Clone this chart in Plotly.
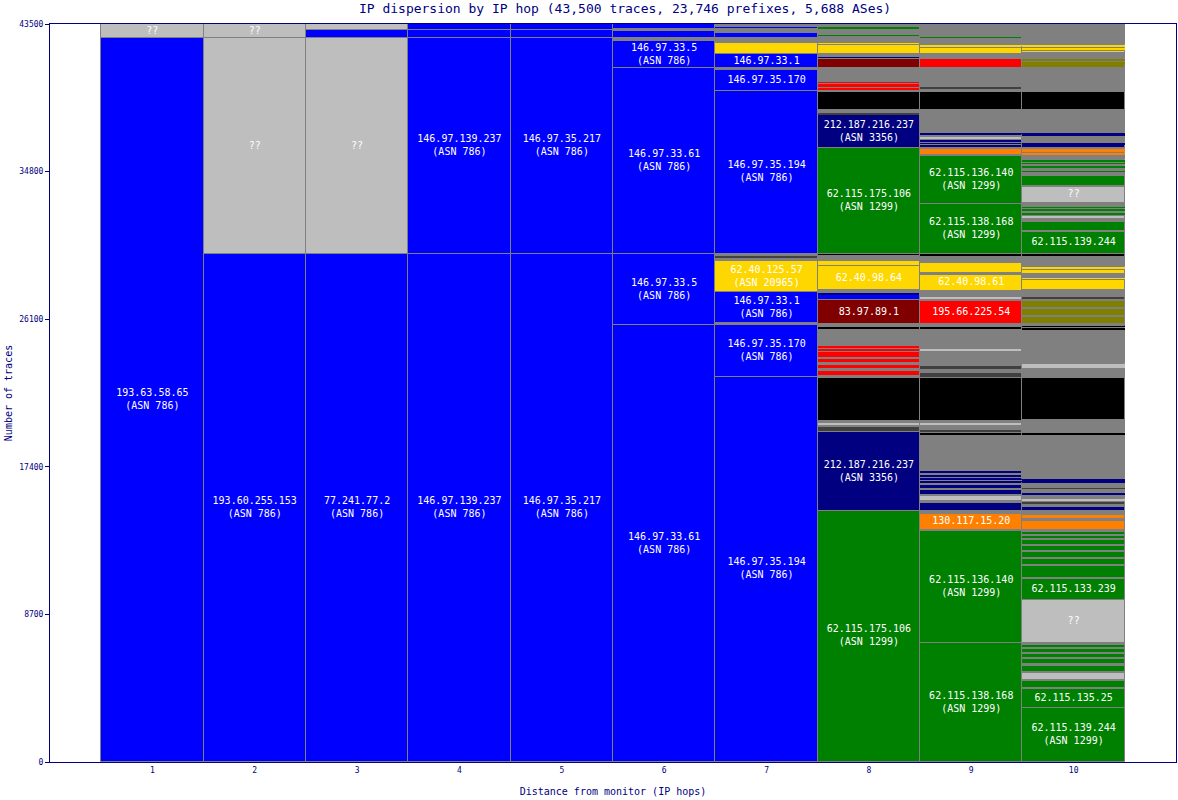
import plotly.graph_objects as go

TITLE = "IP dispersion by IP hop (43,500 traces, 23,746 prefixes, 5,688 ASes)"
X_TITLE = "Distance from monitor (IP hops)"
Y_TITLE = "Number of traces"
HOPS = [1, 2, 3, 4, 5, 6, 7, 8, 9, 10]
Y_TICKS = [0, 8700, 17400, 26100, 34800, 43500]

# segments per hop, bottom to top: (traces, AS colour class, label)
hop1 = [(42650, 'B', '193.63.58.65|(ASN 786)'), (850, 'L', '??')]
hop2 = [(29950, 'B', '193.60.255.153|(ASN 786)'), (12700, 'L', '??'), (850, 'L', '??')]
hop3 = [(29950, 'B', '77.241.77.2|(ASN 786)'), (12700, 'L', '??'), (470, 'B', ''), (380, 'L', '')]
hop4 = [(29950, 'B', '146.97.139.237|(ASN 786)'), (12700, 'B', '146.97.139.237|(ASN 786)'),
        (470, 'B', ''), (380, 'B', '')]
hop5 = [(29950, 'B', '146.97.35.217|(ASN 786)'), (12700, 'B', '146.97.35.217|(ASN 786)'),
        (470, 'B', ''), (380, 'B', '')]
hop6 = [(25750, 'B', '146.97.33.61|(ASN 786)'), (4200, 'B', '146.97.33.5|(ASN 786)'),
        (10950, 'B', '146.97.33.61|(ASN 786)'), (1570, 'B', '146.97.33.5|(ASN 786)'),
        (200, 'G', ''), (390, 'B', ''), (140, 'G', ''), (300, 'B', '')]
hop7 = [(22700, 'B', '146.97.35.194|(ASN 786)'), (3050, 'B', '146.97.35.170|(ASN 786)'), (120, 'G', ''),
        (1830, 'B', '146.97.33.1|(ASN 786)'), (1830, 'Y', '62.40.125.57|(ASN 20965)'),
        (120, 'G', ''), (180, 'D', ''), (120, 'G', ''),
        (9600, 'B', '146.97.35.194|(ASN 786)'), (1240, 'B', '146.97.35.170'), (100, 'G', ''),
        (840, 'B', '146.97.33.1'), (670, 'Y', ''), (260, 'G', ''), (330, 'B', ''), (200, 'G', ''),
        (150, 'B', ''), (160, 'G', '')]
hop8 = [(14800, 'E', '62.115.175.106|(ASN 1299)'), (4630, 'N', '212.187.216.237|(ASN 3356)'),
        (300, 'D', ''), (80, 'G', ''), (180, 'L', ''), (135, 'G', ''), (2520, 'K', ''), (80, 'G', ''),
        (350, 'R', ''), (80, 'G', ''), (250, 'R', ''), (100, 'G', ''), (270, 'R', ''), (120, 'G', ''),
        (140, 'R', ''), (60, 'G', ''), (80, 'R', ''), (80, 'G', ''), (80, 'R', ''), (100, 'G', ''),
        (60, 'R', ''), (985, 'G', ''), (160, 'K', ''), (195, 'G', ''),
        (1375, 'M', '83.97.89.1'), (40, 'G', ''), (310, 'B', ''), (80, 'N', ''), (155, 'G', ''),
        (1415, 'Y', '62.40.98.64'), (40, 'G', ''), (255, 'Y', ''), (295, 'G', ''), (150, 'K', ''),
        (6230, 'E', '62.115.175.106|(ASN 1299)'), (1960, 'N', '212.187.216.237|(ASN 3356)'),
        (135, 'D', ''), (160, 'G', ''), (1060, 'K', ''), (60, 'G', ''),
        (195, 'R', ''), (60, 'G', ''), (80, 'R', ''), (40, 'G', ''), (60, 'R', ''), (40, 'G', ''),
        (75, 'R', ''), (805, 'G', ''), (550, 'M', ''), (40, 'G', ''), (75, 'N', ''), (160, 'G', ''),
        (515, 'Y', ''), (75, 'G', ''), (75, 'Y', ''), (320, 'G', ''), (150, 'E', ''), (320, 'G', ''),
        (120, 'E', ''), (190, 'G', '')]
hop9 = [(7000, 'E', '62.115.138.168|(ASN 1299)'), (6600, 'E', '62.115.136.140|(ASN 1299)'),
        (80, 'G', ''), (945, 'O', '130.117.15.20'), (195, 'G', ''), (470, 'N', ''), (80, 'G', ''),
        (310, 'L', ''), (60, 'G', ''), (295, 'N', ''), (75, 'G', ''), (235, 'N', ''), (140, 'G', ''),
        (75, 'N', ''), (100, 'G', ''), (75, 'N', ''), (75, 'G', ''), (80, 'N', ''), (195, 'G', ''),
        (75, 'N', ''), (2145, 'G', ''), (60, 'K', ''), (120, 'G', ''), (75, 'D', ''), (235, 'G', ''),
        (160, 'L', ''), (155, 'G', ''), (2520, 'K', ''), (40, 'G', ''), (120, 'D', ''), (75, 'G', ''),
        (75, 'D', ''), (160, 'G', ''), (235, 'D', ''), (945, 'G', ''), (75, 'L', ''), (1100, 'G', ''),
        (160, 'K', ''), (195, 'G', ''), (1355, 'R', '195.66.225.54'), (60, 'G', ''), (195, 'L', ''),
        (355, 'G', ''), (945, 'Y', '62.40.98.61'), (80, 'G', ''), (390, 'Y', ''), (40, 'G', ''),
        (75, 'Y', ''), (40, 'G', ''), (75, 'Y', ''), (355, 'G', ''), (175, 'K', ''),
        (2950, 'E', '62.115.138.168|(ASN 1299)'), (2830, 'E', '62.115.136.140|(ASN 1299)'),
        (60, 'G', ''), (335, 'O', ''), (60, 'G', ''), (195, 'N', ''), (60, 'G', ''), (75, 'N', ''),
        (60, 'G', ''), (80, 'N', ''), (210, 'L', ''), (100, 'G', ''), (100, 'N', ''), (1375, 'G', ''),
        (1080, 'K', ''), (200, 'G', ''), (95, 'D', ''), (1085, 'G', ''), (565, 'R', ''), (275, 'G', ''),
        (355, 'Y', ''), (75, 'G', ''), (120, 'Y', ''), (410, 'G', ''), (60, 'E', ''), (740, 'G', '')]
hop10 = [(3165, 'E', '62.115.139.244|(ASN 1299)'), (1140, 'E', '62.115.135.25'), (60, 'G', ''),
         (415, 'E', ''), (60, 'G', ''), (430, 'L', ''), (60, 'G', ''), (355, 'E', ''), (80, 'G', ''),
         (310, 'E', ''), (75, 'G', ''), (235, 'E', ''), (60, 'G', ''), (200, 'E', ''), (60, 'G', ''),
         (195, 'E', ''), (100, 'G', ''), (2550, 'L', '??'), (1255, 'E', '62.115.133.239'),
         (60, 'G', ''), (690, 'E', ''), (60, 'G', ''), (370, 'E', ''), (60, 'G', ''), (335, 'E', ''),
         (60, 'G', ''), (295, 'E', ''), (60, 'G', ''), (295, 'E', ''), (40, 'G', ''), (195, 'E', ''),
         (60, 'G', ''), (175, 'E', ''), (120, 'G', ''), (515, 'O', ''), (120, 'G', ''), (270, 'O', ''),
         (235, 'G', ''), (235, 'N', ''), (80, 'G', ''), (195, 'D', ''), (75, 'G', ''), (80, 'L', ''),
         (255, 'G', ''), (135, 'N', ''), (220, 'G', ''), (60, 'D', ''), (275, 'G', ''), (120, 'N', ''),
         (35, 'G', ''), (120, 'N', ''), (2620, 'G', ''), (60, 'K', ''), (745, 'G', ''), (2520, 'K', ''),
         (550, 'G', ''), (120, 'L', ''), (40, 'G', ''), (75, 'L', ''), (2045, 'G', ''), (120, 'K', ''),
         (40, 'G', ''), (75, 'K', ''), (120, 'G', ''), (395, 'V', ''), (75, 'G', ''), (395, 'V', ''),
         (60, 'G', ''), (390, 'V', ''), (100, 'G', ''), (160, 'D', ''), (390, 'G', ''), (630, 'Y', ''),
         (40, 'G', ''), (75, 'Y', ''), (235, 'G', ''), (235, 'Y', ''), (75, 'G', ''), (80, 'Y', ''),
         (625, 'G', ''), (155, 'K', ''),
         (1315, 'E', '62.115.139.244'), (60, 'G', ''), (515, 'E', ''), (175, 'G', ''), (175, 'L', ''),
         (75, 'G', ''), (120, 'E', ''), (120, 'G', ''), (80, 'E', ''), (75, 'G', ''), (75, 'E', ''),
         (235, 'G', ''), (945, 'L', '??'), (60, 'G', ''), (570, 'E', ''), (235, 'G', ''), (75, 'E', ''),
         (200, 'G', ''), (95, 'E', ''), (100, 'G', ''), (75, 'E', ''), (80, 'G', ''), (75, 'E', ''),
         (295, 'G', ''), (135, 'O', ''), (60, 'G', ''), (140, 'O', ''), (60, 'G', ''), (195, 'N', ''),
         (60, 'G', ''), (75, 'N', ''), (455, 'G', ''), (100, 'N', ''), (1375, 'G', ''), (1080, 'K', ''),
         (1415, 'G', ''), (200, 'V', ''), (40, 'G', ''), (80, 'V', ''), (95, 'G', ''), (80, 'V', ''),
         (355, 'G', ''), (155, 'Y', ''), (40, 'G', ''), (100, 'Y', ''), (95, 'G', ''), (100, 'Y', ''),
         (1235, 'G', '')]

PALETTE = {
    'B': '#0000FF', 'L': '#BEBEBE', 'G': '#808080', 'D': '#404040', 'N': '#000080',
    'E': '#008000', 'Y': '#FFD700', 'M': '#800000', 'R': '#FF0000', 'O': '#FF8000',
    'V': '#808000', 'K': '#000000',
}
NAVY = '#000080'
FONT = 'DejaVu Sans Mono'

columns = [hop1, hop2, hop3, hop4, hop5, hop6, hop7, hop8, hop9, hop10]
xs, hs, bases, colors, lws = [], [], [], [], []
tx, ty, tt = [], [], []
for hop, segs in zip(HOPS, columns):
    cum = 0
    for count, code, label in segs:
        xs.append(hop)
        hs.append(count)
        bases.append(cum)
        colors.append(PALETTE[code])
        lws.append(1 if (count >= 150 or code == 'G') else 0)
        if label:
            tx.append(hop)
            ty.append(cum + count / 2)
            tt.append(label.replace('|', '<br>'))
        cum += count

fig = go.Figure()
fig.add_trace(go.Bar(
    x=xs, y=hs, base=bases, width=1.0,
    marker=dict(color=colors, line=dict(color='#808080', width=lws)),
    hoverinfo='skip', showlegend=False,
))
fig.add_trace(go.Scatter(
    x=tx, y=ty, text=tt, mode='text', textposition='middle center',
    textfont=dict(family=FONT, size=10, color='white'),
    hoverinfo='skip', showlegend=False,
))

fig.update_layout(
    width=1178, height=800,
    margin=dict(l=50, r=2, t=24, b=38),
    paper_bgcolor='white', plot_bgcolor='white',
    barmode='overlay', bargap=0,
    title=dict(text=TITLE, x=0.5306, xref='container', xanchor='center',
               y=0.989, yref='container', yanchor='middle',
               font=dict(family=FONT, size=13, color=NAVY)),
    xaxis=dict(range=[0, 11], tickvals=HOPS, ticktext=[str(h) for h in HOPS],
               ticks='', showgrid=False, zeroline=False,
               showline=True, linecolor=NAVY, linewidth=1, mirror=True,
               tickfont=dict(family=FONT, size=8, color=NAVY),
               title=dict(text=X_TITLE, font=dict(family=FONT, size=10, color=NAVY), standoff=14),
               automargin=False),
    yaxis=dict(range=[0, 43500], tickvals=Y_TICKS, ticktext=[str(v) for v in Y_TICKS],
               ticks='outside', ticklen=4, tickcolor=NAVY, showgrid=False, zeroline=False,
               showline=True, linecolor=NAVY, linewidth=1, mirror=True,
               tickfont=dict(family=FONT, size=8, color=NAVY),
               title=dict(text=Y_TITLE, font=dict(family=FONT, size=10, color=NAVY), standoff=4),
               automargin=False),
)

fig.write_html("out.html")
